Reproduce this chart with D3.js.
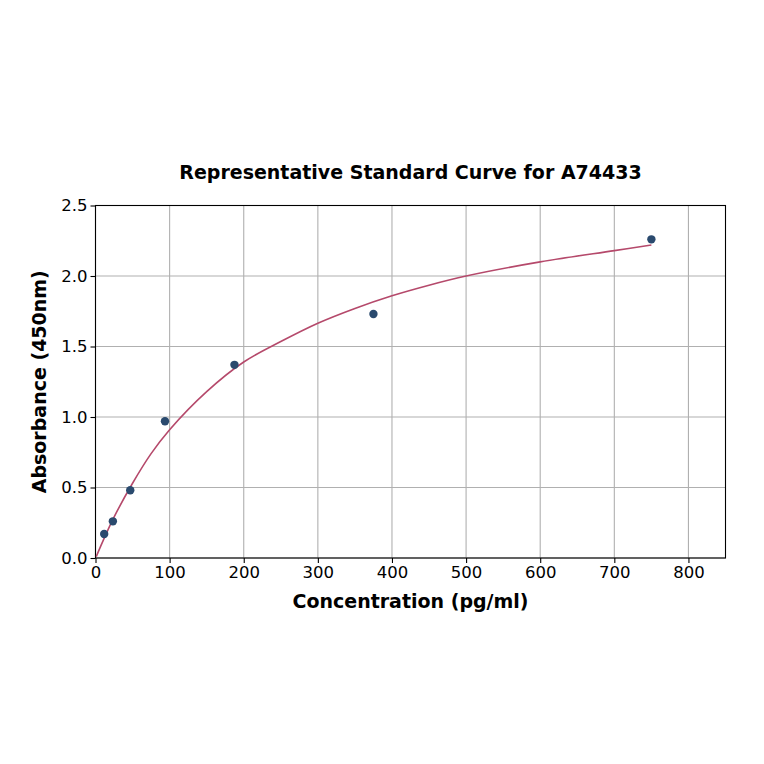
<!DOCTYPE html>
<html>
<head>
<meta charset="utf-8">
<script src="https://cdn.jsdelivr.net/npm/d3@7"></script>
<style>
  body { margin: 0; background: #fff; }
  svg { font-family: "DejaVu Sans", sans-serif; }
</style>
</head>
<body>
<svg id="chart"></svg>
<script>
// Standard points
const concentrations = [11.72, 23.44, 46.88, 93.75, 187.5, 375, 750];
const absorbances = [0.17, 0.26, 0.48, 0.97, 1.37, 1.73, 2.26];

// Fitted curve
const curveX = [1, 10, 25, 50, 75, 100, 150, 200, 250, 300, 350, 400, 450, 500, 600, 700, 750];
const curveY = [0.01, 0.12, 0.29, 0.53, 0.74, 0.91, 1.18, 1.39, 1.535, 1.665, 1.77, 1.86, 1.935, 2.00, 2.10, 2.18, 2.22];

const xTicks = [0, 100, 200, 300, 400, 500, 600, 700, 800];
const yTicks = [0.0, 0.5, 1.0, 1.5, 2.0, 2.5];

const W = 764, H = 764;
const margin = { top: 205.5, right: 38.5, bottom: 206, left: 95.5 };
const width = W - margin.left - margin.right;
const height = H - margin.top - margin.bottom;

const svg = d3.select("#chart")
  .attr("width", W)
  .attr("height", H);

const g = svg.append("g")
  .attr("transform", "translate(" + margin.left + "," + margin.top + ")");

const x = d3.scaleLinear().domain([0, 850]).range([0, width]);
const y = d3.scaleLinear().domain([0, 2.5]).range([height, 0]);

// Grid
g.append("g").selectAll("line")
  .data(xTicks)
  .enter().append("line")
  .attr("x1", d => x(d)).attr("x2", d => x(d))
  .attr("y1", 0).attr("y2", height)
  .attr("stroke", "#b0b0b0").attr("stroke-width", 1.1);

g.append("g").selectAll("line")
  .data(yTicks)
  .enter().append("line")
  .attr("x1", 0).attr("x2", width)
  .attr("y1", d => y(d)).attr("y2", d => y(d))
  .attr("stroke", "#b0b0b0").attr("stroke-width", 1.1);

// Axes
const xAxis = g.append("g")
  .attr("transform", "translate(0," + height + ")")
  .call(d3.axisBottom(x).tickValues(xTicks).tickFormat(d3.format("d")).tickSize(5).tickPadding(3));

const yAxis = g.append("g")
  .call(d3.axisLeft(y).tickValues(yTicks).tickFormat(d3.format(".1f")).tickSize(5).tickPadding(3));

[xAxis, yAxis].forEach(a => {
  a.select(".domain").remove();
  a.selectAll("text").attr("font-size", 16.5).attr("font-family", "DejaVu Sans").attr("fill", "#000");
  a.selectAll("line").attr("stroke", "#000").attr("stroke-width", 1.1);
});

// Frame
g.append("rect")
  .attr("width", width).attr("height", height)
  .attr("fill", "none").attr("stroke", "#000").attr("stroke-width", 1.1);

// Fitted curve
const line = d3.line()
  .x((d, i) => x(curveX[i]))
  .y(d => y(d))
  .curve(d3.curveCatmullRom);

g.append("path")
  .datum(curveY)
  .attr("d", line)
  .attr("fill", "none")
  .attr("stroke", "#b5496b")
  .attr("stroke-width", 1.6);

// Points
g.selectAll(".pt")
  .data(concentrations)
  .enter().append("circle")
  .attr("class", "pt")
  .attr("cx", d => x(d))
  .attr("cy", (d, i) => y(absorbances[i]))
  .attr("r", 4.2)
  .attr("fill", "#2a4a6e");

// Title
svg.append("text")
  .attr("x", margin.left + width / 2)
  .attr("y", 179)
  .attr("text-anchor", "middle")
  .attr("font-size", 19)
  .attr("font-weight", "bold")
  .text("Representative Standard Curve for A74433");

// Axis labels
svg.append("text")
  .attr("x", margin.left + width / 2)
  .attr("y", 608)
  .attr("text-anchor", "middle")
  .attr("font-size", 19)
  .attr("font-weight", "bold")
  .text("Concentration (pg/ml)");

svg.append("text")
  .attr("transform", "translate(46," + (margin.top + height / 2) + ") rotate(-90)")
  .attr("text-anchor", "middle")
  .attr("font-size", 19)
  .attr("font-weight", "bold")
  .text("Absorbance (450nm)");
</script>
</body>
</html>
